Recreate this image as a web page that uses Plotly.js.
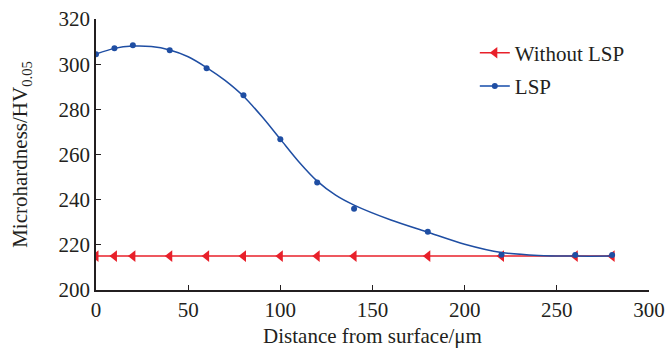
<!DOCTYPE html>
<html><head><meta charset="utf-8">
<script src="https://cdn.plot.ly/plotly-3.0.1.min.js"></script>
<style>body{margin:0;background:#fff}#c{width:666px;height:348px}</style>
</head><body><div id="c"></div>
<script>
var depth = [0, 10, 20, 40, 60, 80, 100, 120, 140, 180, 220, 260, 280];
var withoutLSP = [215, 215, 215, 215, 215, 215, 215, 215, 215, 215, 215, 215, 215];
var lsp = [304.4, 307, 308.4, 306.2, 298.2, 286.2, 266.7, 247.6, 236, 225.8, 215.6, 215.5, 215.5];
var fitX = [0, 10, 20, 30, 40, 50, 60, 70, 80, 90, 100, 110, 120, 130, 140, 160, 180, 200, 220, 240, 260, 280];
var fitY = [304.5, 307, 308, 307.8, 306.3, 303.3, 298.5, 292.8, 285.8, 276.8, 266.8, 256.8, 248.2, 242, 237.6, 231, 225.6, 220.3, 216.6, 215.3, 215, 215];
var xTicks = [0, 50, 100, 150, 200, 250, 300];
var yTicks = [200, 220, 240, 260, 280, 300, 320];

var blue = '#1f4ea3';
var red = '#e8202a';
var font = {family: 'Liberation Serif, Times New Roman, serif', color: '#231f20'};
function f(s) { return {family: font.family, color: font.color, size: s}; }

var traces = [
  {x: depth, y: withoutLSP, name: 'Without LSP', mode: 'lines+markers', legendgroup: 'a',
   line: {color: red, width: 1.5}, marker: {symbol: 'triangle-left', size: 10, color: red}},
  {x: fitX, y: fitY, mode: 'lines', showlegend: false, line: {color: blue, width: 1.5, shape: 'spline', smoothing: 0.8}},
  {x: depth, y: lsp, mode: 'markers', showlegend: false, marker: {symbol: 'circle', size: 6, color: blue}},
  {x: [null], y: [null], name: 'LSP', mode: 'lines+markers', legendgroup: 'b',
   line: {color: '#4f78bf', width: 2}, marker: {symbol: 'circle', size: 6, color: blue}}
];

var layout = {
  width: 666, height: 348,
  margin: {l: 96, r: 17, t: 19, b: 58},
  paper_bgcolor: '#fff', plot_bgcolor: '#fff',
  font: f(21),
  showlegend: true,
  legend: {x: 0.685, y: 0.95, xanchor: 'left', yanchor: 'top', bgcolor: 'rgba(0,0,0,0)',
           font: f(21), traceorder: 'grouped', tracegroupgap: 3},
  xaxis: {range: [0, 300], tickvals: xTicks, ticktext: xTicks.map(String), ticks: 'inside', ticklen: 5,
          tickwidth: 1.2, tickcolor: '#231f20', showline: true, linecolor: '#231f20', linewidth: 1.5,
          showgrid: false, zeroline: false, tickfont: f(21),
          title: {text: 'Distance from surface/μm', font: f(21), standoff: 13}},
  yaxis: {range: [200, 320], tickvals: yTicks, ticktext: yTicks.map(String), ticks: 'inside', ticklen: 5,
          tickwidth: 1.2, tickcolor: '#231f20', showline: true, linecolor: '#231f20', linewidth: 1.5,
          showgrid: false, zeroline: false, tickfont: f(21),
          title: {text: 'Microhardness/HV<sub>0.05</sub>', font: f(21), standoff: 25}}
};
Plotly.newPlot('c', traces, layout, {displayModeBar: false});
</script></body></html>
